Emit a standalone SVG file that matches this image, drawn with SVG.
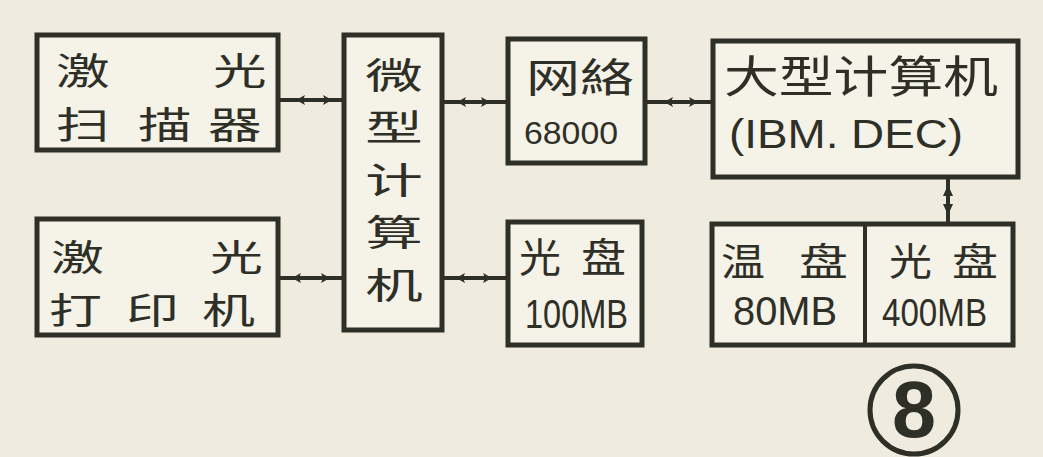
<svg xmlns="http://www.w3.org/2000/svg" width="1043" height="457" viewBox="0 0 1043 457">
<style>
.box{fill:#f5f2e8;stroke:#2e2f27;stroke-width:5}
.t{font-family:"Noto Sans CJK SC","Noto Sans CJK JP",sans-serif;fill:#2e2f27}
.n{font-family:"Liberation Sans","DejaVu Sans",sans-serif;fill:#2e2f27}
.c{stroke:#2e2f27;stroke-width:4;fill:none}
.h{fill:#2e2f27}
</style>
<defs>
<polygon id="hl" points="0,0 9,-5 7,0 9,5"/>
<polygon id="hr" points="0,0 -9,-5 -7,0 -9,5"/>
</defs>
<rect x="0" y="0" width="1043" height="457" fill="#efebdf"/>

<g id="connectors">
<line class="c" x1="278" y1="100" x2="343" y2="100"/>
<use href="#hl" class="h" x="296" y="100"/><use href="#hr" class="h" x="332" y="100"/>
<line class="c" x1="442" y1="102" x2="508" y2="102"/>
<use href="#hl" class="h" x="457" y="102"/><use href="#hr" class="h" x="490" y="102"/>
<line class="c" x1="278" y1="278" x2="343" y2="278"/>
<use href="#hl" class="h" x="292" y="278"/><use href="#hr" class="h" x="330" y="278"/>
<line class="c" x1="442" y1="278" x2="508" y2="278"/>
<use href="#hl" class="h" x="456" y="278"/><use href="#hr" class="h" x="492" y="278"/>
<line class="c" x1="645" y1="102" x2="713" y2="102"/>
<use href="#hl" class="h" x="664" y="102"/><use href="#hr" class="h" x="698" y="102"/>
<line class="c" x1="948" y1="177" x2="948" y2="223"/>
<polygon class="h" points="948,185 943,196 953,196"/>
<polygon class="h" points="948,215 943,204 953,204"/>
</g>

<g id="scanner">
<rect class="box" x="37" y="35" width="241" height="115"/>
<text class="t" font-size="37" transform="scale(1.45,1)"><tspan x="38.6" y="85">激</tspan><tspan x="146.9" y="85">光</tspan><tspan x="38.6" y="139">扫</tspan><tspan x="95.2" y="139">描</tspan><tspan x="143.4" y="139">器</tspan></text>
</g>

<g id="printer">
<rect class="box" x="37" y="219" width="241" height="116"/>
<text class="t" font-size="36.5" transform="scale(1.45,1)"><tspan x="35.2" y="271">激</tspan><tspan x="144.8" y="271">光</tspan><tspan x="33.8" y="324">打</tspan><tspan x="86.9" y="324">印</tspan><tspan x="139.3" y="324">机</tspan></text>
</g>

<g id="micro">
<rect class="box" x="344" y="35" width="98" height="295"/>
<text class="t" font-size="36" text-anchor="middle" transform="translate(394,0) scale(1.6,1)"><tspan x="0" y="89">微</tspan><tspan x="0" y="141.5">型</tspan><tspan x="0" y="194">计</tspan><tspan x="0" y="246.5">算</tspan><tspan x="0" y="299">机</tspan></text>
</g>

<g id="network">
<rect class="box" x="508" y="39" width="137" height="124"/>
<text class="t" x="526" y="92" font-size="40" textLength="108" lengthAdjust="spacingAndGlyphs">网絡</text>
<text class="n" x="524" y="144" font-size="32" textLength="94" lengthAdjust="spacingAndGlyphs">68000</text>
</g>

<g id="disc100">
<rect class="box" x="508" y="222" width="134" height="123"/>
<text class="t" x="519" y="272" font-size="40" textLength="42" lengthAdjust="spacingAndGlyphs">光</text>
<text class="t" x="581" y="272" font-size="40" textLength="45" lengthAdjust="spacingAndGlyphs">盘</text>
<text class="n" x="525" y="328" font-size="40" textLength="103" lengthAdjust="spacingAndGlyphs">100MB</text>
</g>

<g id="mainframe">
<rect class="box" x="713" y="41" width="305" height="136"/>
<text class="t" x="724" y="93" font-size="44" textLength="274" lengthAdjust="spacingAndGlyphs">大型计算机</text>
<text class="n" x="729" y="148" font-size="40" textLength="234" lengthAdjust="spacingAndGlyphs">(IBM. DEC)</text>
</g>

<g id="storage">
<rect class="box" x="712" y="224" width="301" height="121"/>
<line class="c" stroke-width="5" x1="865" y1="224" x2="865" y2="345"/>
<text class="t" x="721" y="275" font-size="38" textLength="44" lengthAdjust="spacingAndGlyphs">温</text>
<text class="t" x="799" y="275" font-size="38" textLength="49" lengthAdjust="spacingAndGlyphs">盘</text>
<text class="n" x="733" y="325" font-size="40" textLength="104" lengthAdjust="spacingAndGlyphs">80MB</text>
<text class="t" x="889" y="275" font-size="38" textLength="43" lengthAdjust="spacingAndGlyphs">光</text>
<text class="t" x="952" y="275" font-size="38" textLength="46" lengthAdjust="spacingAndGlyphs">盘</text>
<text class="n" x="882" y="326" font-size="38" textLength="105" lengthAdjust="spacingAndGlyphs">400MB</text>
</g>

<g id="label8">
<circle cx="914" cy="410" r="44" fill="none" stroke="#2e2f27" stroke-width="5"/>
<text class="n" x="892" y="437" font-size="80" font-weight="bold" textLength="44" lengthAdjust="spacingAndGlyphs">8</text>
</g>
</svg>
